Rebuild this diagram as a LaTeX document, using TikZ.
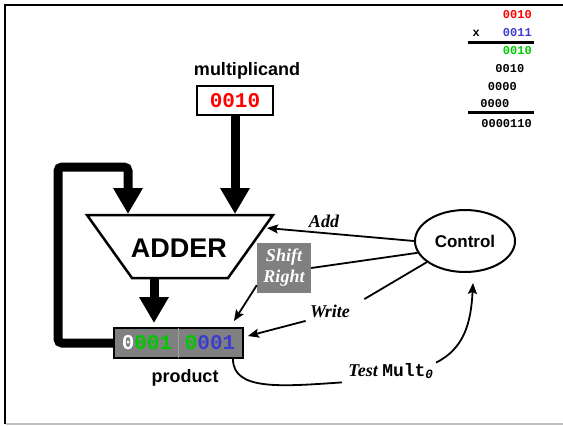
\documentclass[tikz,border=0pt]{standalone}
\usepackage{fontspec}
\setmainfont{Liberation Serif}
\setsansfont{Liberation Sans}
\setmonofont{Liberation Mono}
\usepackage{tikz}
\usetikzlibrary{arrows.meta,shapes.geometric}
\definecolor{bitred}{RGB}{255,0,0}
\definecolor{bitgreen}{RGB}{0,200,0}
\definecolor{bitblue}{RGB}{60,60,210}
\definecolor{reggray}{RGB}{128,128,128}

\begin{document}
\begin{tikzpicture}[x=1pt,y=-1pt,
		bus/.style={line width=9pt,-{Triangle[width=28pt,length=26pt]}},
		sig/.style={line width=1.8pt,-{Stealth[length=11pt,width=9pt,inset=2pt]}},
		wire/.style={line width=1.8pt},
		lbl/.style={font=\sffamily\bfseries\fontsize{18}{20}\selectfont},
		cmd/.style={font=\rmfamily\bfseries\itshape\fontsize{18}{21}\selectfont},
		regbox/.style={draw,line width=2pt,inner sep=0pt,font=\ttfamily\bfseries\fontsize{21}{21}\selectfont},
		calc/.style={anchor=base east,inner sep=0pt,font=\ttfamily\bfseries\fontsize{12}{12}\selectfont}]
			\useasboundingbox (0,0) rectangle (563,426);
			\draw[line width=2.5pt] (5,424) -- (5,5) -- (563,5);
			\draw[line width=2.5pt,gray!50] (6,424) -- (563,424);
			
			% worked example
			\node[calc,text=bitred] (c1) at (532,18){0010};
			\node[calc] (cx) at (480,36){x};
			\node[calc,text=bitblue] (c2) at (532,36){0011};
			\draw[line width=3pt] (468,42) -- (534,42);
			\node[calc,text=bitgreen] (c3) at (532,54){0010};
			\node[calc] (c4) at (524.5,72.5){0010};
			\node[calc] (c5) at (517,90){0000};
			\node[calc] (c6) at (509.5,107.5){0000};
			\draw[line width=3pt] (468,112.5) -- (534,112.5);
			\node[calc] (c7) at (532,127){0000110};
			
			% adder
			\coordinate (atl) at (87,215);
			\coordinate (atr) at (273,215);
			\coordinate (abr) at (228,278);
			\coordinate (abl) at (132,278);
			\coordinate (aout) at (154,278);
			\coordinate (addin) at (267,228);
			\draw[line width=2.5pt,fill=white] (atl) -- (atr) -- (abr) -- (abl) -- cycle;
			\node[font=\sffamily\bfseries\fontsize{27}{27}\selectfont] (adder) at (179,248){ADDER};
			
			\node[lbl] (mlab) at (247,71){multiplicand};
			\node[regbox,minimum width=76pt,minimum height=29pt,text=bitred] (mcand) at (235,100.5){0010};
			
			\node[regbox,fill=reggray,minimum width=129pt,minimum height=30pt] (preg) at (178.5,343){\textcolor{white}{0}\textcolor{bitgreen}{001}\hspace{0.6em}\textcolor{bitgreen}{0}\textcolor{bitblue}{001}};
			\draw[gray!75,line width=1pt,shorten <=1pt,shorten >=1pt] (preg.north) -- (preg.south);
			\node[lbl] (plab) at (185,378){product};
			
			\draw[bus,shorten >=1pt] (mcand.south) -- (mcand.south |- atl);
			\draw[bus,shorten >=1pt,rounded corners=4pt] (preg.west) -- (58,343) |- (128,167) -- (128,215);
			\draw[bus,shorten >=4pt] (aout) -- (aout |- preg.north);
			
			% control lines
			\node[draw,ellipse,line width=2pt,minimum width=100pt,minimum height=62pt,inner sep=0pt,font=\sffamily\bfseries\fontsize{17}{17}\selectfont] (ctrl) at (465,241){Control};
			
			\node[cmd] (addl) at (324,221){Add};
			\draw[sig] (ctrl.west) -- (addin);
			
			\node[cmd,fill=reggray,text=white,align=center,minimum width=54pt,minimum height=50pt,inner sep=0pt] (shr) at (284,268){Shift\\Right};
			\draw[wire] (ctrl.194) -- (shr.east);
			\draw[sig] ([yshift=8pt]shr.south west) -- ([xshift=-10pt,yshift=6pt]preg.north east);
			
			\node[cmd] (wrl) at (330,311){Write};
			\draw[wire] (ctrl.209) -- ([xshift=11pt,yshift=2pt]wrl.north east);
			\draw[sig] ([xshift=-1pt]wrl.south west) -- ([xshift=4pt,yshift=7pt]preg.east);
			
			\node[cmd] (tst) at (391,371){Test {\ttfamily\upshape Mult\textsubscript{\itshape 0}}};
			\draw[wire] ([xshift=-11pt]preg.south east) .. controls +(0,32) and +(-60,4) .. ([xshift=-3pt]tst.south west);
			\draw[sig] ([xshift=-1pt,yshift=-3pt]tst.north east) .. controls +(28,-14) and +(-2,40) .. ([xshift=8pt,yshift=-10pt]ctrl.south);
		\end{tikzpicture}
\end{document}
